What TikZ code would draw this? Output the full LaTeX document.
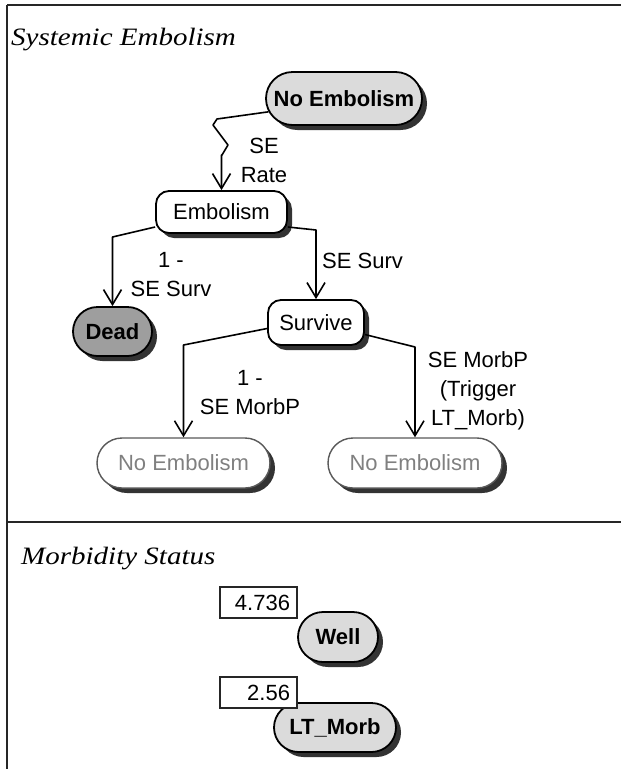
\documentclass[tikz,border=0pt]{standalone}
\usepackage{fontspec}
\usepackage{graphicx}
\setmainfont{Liberation Sans}
\newfontfamily\titlefont{Liberation Serif}
\usetikzlibrary{shapes.misc,shadows,arrows.meta,calc}

\begin{document}
\begin{tikzpicture}[x=1pt,y=-1pt,
  frameline/.style={draw=black!85, line width=1.6pt},
  heading/.style={anchor=base west, inner sep=0pt,
    font=\titlefont\itshape\fontsize{25}{30}\selectfont},
  lbl/.style={font=\fontsize{22}{29}\selectfont, align=center, inner sep=0pt},
  statebase/.style={draw=black, line width=1.8pt, inner sep=0pt,
    font=\fontsize{22}{26}\selectfont,
    drop shadow={shadow xshift=5pt, shadow yshift=-5pt, fill=black!80, opacity=1}},
  pill/.style={statebase, rounded rectangle},
  rbox/.style={statebase, rectangle, rounded corners=13pt},
  startstate/.style={pill, fill=black!14, font=\fontsize{22}{26}\selectfont\bfseries},
  deadstate/.style={pill, fill=black!38, font=\fontsize{22}{26}\selectfont\bfseries},
  plainstate/.style={rbox, fill=white},
  jumpstate/.style={pill, fill=white, draw=black!65, line width=1.4pt, text=black!50},
  numbox/.style={draw=black!85, line width=1.6pt, fill=white, inner sep=0pt,
    minimum width=77pt, minimum height=31pt, text width=63pt, align=right,
    font=\fontsize{22}{26}\selectfont},
  arr/.style={draw, line width=1.6pt, line join=round,
    -{Straight Barb[length=15pt, width=18pt, line width=1.6pt]}}
]
\useasboundingbox (0,0) rectangle (621,769);

% panel frame
\draw[frameline] (7,5) -- (621,5);
\draw[frameline] (7,5) -- (7,769);
\draw[frameline, line width=2pt] (7,522) -- (621,522);

% headings
\node[heading] (h1) at (11,45) {\scalebox{1.16}[1]{Systemic Embolism}};
\node[heading] (h2) at (21,564) {\scalebox{1.16}[1]{Morbidity Status}};

% states of the embolism tree
\node[startstate, minimum width=156pt, minimum height=53pt] (ne) at (344,98.5) {No Embolism};
\node[plainstate, minimum width=131pt, minimum height=42pt] (emb) at (221.5,212) {Embolism};
\node[deadstate, minimum width=79pt, minimum height=49pt] (dead) at (112.5,331.5) {Dead};
\node[plainstate, minimum width=96pt, minimum height=45pt] (surv) at (316,322.5) {Survive};
\node[jumpstate, minimum width=173pt, minimum height=50pt] (gl) at (183.5,463) {No Embolism};
\node[jumpstate, minimum width=174pt, minimum height=50pt] (gr) at (415,463) {No Embolism};

% bend points
\coordinate (z1) at (217,119);
\coordinate (z2) at (213,125);
\coordinate (z3) at (228,145);
\coordinate (z4) at (222,155);

% transitions
\draw[arr] (ne.190) -- (z1) -- (z2) -- (z3) -- (z4) -- (emb.north |- z4) -- (emb.north);
\draw[arr] ([yshift=-15pt]emb.west) -- (dead.north |- 0,237) -- (dead.north);
\draw[arr] ([yshift=-15pt]emb.east) -- (surv.north |- 0,230) -- (surv.north);
\draw[arr] ([yshift=-6pt]surv.west) -- (gl.north |- 0,345) -- (gl.north);
\draw[arr] ([yshift=-12pt]surv.east) -- (gr.north |- 0,347) -- (gr.north);

% transition labels
\node[lbl] (lrate) at (264,160) {SE\\Rate};
\node[lbl] (ldead) at (171,275) {1 -\\SE Surv};
\node[lbl, anchor=west] (lsurv) at (322,261) {SE Surv};
\node[lbl] (lnomorb) at (250,393) {1 -\\SE MorbP};
\node[lbl] (lmorb) at (478,391) {SE MorbP\\(Trigger\\LT\_Morb)};

% morbidity states with their values
\node[startstate, minimum width=80pt, minimum height=50pt] (well) at (338,637) {Well};
\node[startstate, minimum width=122pt, minimum height=49pt] (ltm) at (335,727.5) {LT\_Morb};
\node[numbox] (vwell) at (258.5,602.5) {4.736};
\node[numbox] (vltm) at (258.5,692.5) {2.56};
\end{tikzpicture}
\end{document}
